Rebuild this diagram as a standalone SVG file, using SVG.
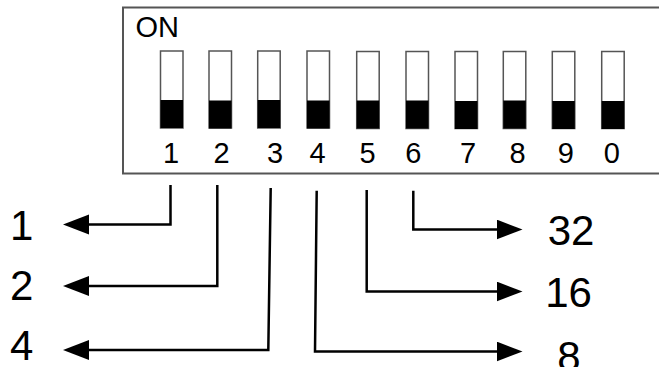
<svg xmlns="http://www.w3.org/2000/svg" width="659" height="367" viewBox="0 0 659 367">
<style>
.t{font-family:"Liberation Sans",Arial,sans-serif;fill:#000}
.sm{font-size:29px}
.lg{font-size:42px}
.sw{fill:#fff;stroke:#555;stroke-width:1.5}
.kn{fill:#000}
.ln{fill:none;stroke:#000;stroke-width:2.5}
</style>
<defs>
<marker id="ah" markerUnits="userSpaceOnUse" markerWidth="27" markerHeight="21" refX="6" refY="10" orient="auto" viewBox="0 0 27 21">
<path d="M0,0 L26,10 L0,20 Z" fill="#000"/>
</marker>
</defs>
<rect width="659" height="367" fill="#fff"/>
<g id="dip-switch">
<rect x="123" y="7.5" width="560" height="166" fill="#fff" stroke="#555" stroke-width="2"/>
<text class="t sm" x="135.5" y="37.3">ON</text>
</g>
<g id="sw1"><rect class="sw" x="160.5" y="51" width="22.5" height="77"/><rect class="kn" x="160.5" y="100" width="22.5" height="28"/><text class="t sm" x="171" y="162.5" text-anchor="middle">1</text></g>
<g id="sw2"><rect class="sw" x="209" y="51" width="22.5" height="77"/><rect class="kn" x="209" y="100.5" width="22.5" height="28"/><text class="t sm" x="221.5" y="162.5" text-anchor="middle">2</text></g>
<g id="sw3"><rect class="sw" x="257.7" y="51" width="22.5" height="77"/><rect class="kn" x="257.7" y="100" width="22.5" height="28"/><text class="t sm" x="275" y="162.5" text-anchor="middle">3</text></g>
<g id="sw4"><rect class="sw" x="307" y="51" width="22.5" height="77"/><rect class="kn" x="307" y="100.5" width="22.5" height="28"/><text class="t sm" x="317.5" y="162.5" text-anchor="middle">4</text></g>
<g id="sw5"><rect class="sw" x="356.7" y="51.5" width="22.5" height="77"/><rect class="kn" x="356.7" y="100.5" width="22.5" height="28"/><text class="t sm" x="367.5" y="162.5" text-anchor="middle">5</text></g>
<g id="sw6"><rect class="sw" x="406" y="51.5" width="22.5" height="77"/><rect class="kn" x="406" y="100.5" width="22.5" height="28"/><text class="t sm" x="413.3" y="162.5" text-anchor="middle">6</text></g>
<g id="sw7"><rect class="sw" x="455" y="51.5" width="22.5" height="77"/><rect class="kn" x="455" y="101" width="22.5" height="28"/><text class="t sm" x="468" y="162.5" text-anchor="middle">7</text></g>
<g id="sw8"><rect class="sw" x="503.3" y="51.5" width="22.5" height="77"/><rect class="kn" x="503.3" y="100.5" width="22.5" height="28"/><text class="t sm" x="517.5" y="162.5" text-anchor="middle">8</text></g>
<g id="sw9"><rect class="sw" x="552.3" y="51.5" width="22.5" height="77"/><rect class="kn" x="552.3" y="101" width="22.5" height="28"/><text class="t sm" x="565.8" y="162.5" text-anchor="middle">9</text></g>
<g id="sw0"><rect class="sw" x="601.7" y="51.5" width="22.5" height="77"/><rect class="kn" x="601.7" y="101" width="22.5" height="28"/><text class="t sm" x="611.7" y="162.5" text-anchor="middle">0</text></g>
<g id="connectors">
<path class="ln" d="M170.5,185 L170.5,224.5 L83,224.5" marker-end="url(#ah)"/>
<path class="ln" d="M217.3,185 L217.3,286 L83,286" marker-end="url(#ah)"/>
<path class="ln" d="M270.7,188 L268.3,350 L83,350" marker-end="url(#ah)"/>
<path class="ln" d="M316.7,190.7 L315,351.5 L502.5,351.5" marker-end="url(#ah)"/>
<path class="ln" d="M366.7,190 L366.7,291.5 L502.5,291.5" marker-end="url(#ah)"/>
<path class="ln" d="M413.3,190.7 L413.3,229.5 L502.5,229.5" marker-end="url(#ah)"/>
</g>
<g id="label-1"><text class="t lg" x="10" y="240">1</text></g>
<g id="label-2"><text class="t lg" x="10" y="300">2</text></g>
<g id="label-4"><text class="t lg" x="10" y="360">4</text></g>
<g id="label-32"><text class="t lg" x="571" y="245" text-anchor="middle">32</text></g>
<g id="label-16"><text class="t lg" x="568.5" y="306.5" text-anchor="middle">16</text></g>
<g id="label-8"><text class="t lg" x="569" y="370.5" text-anchor="middle">8</text></g>
</svg>
